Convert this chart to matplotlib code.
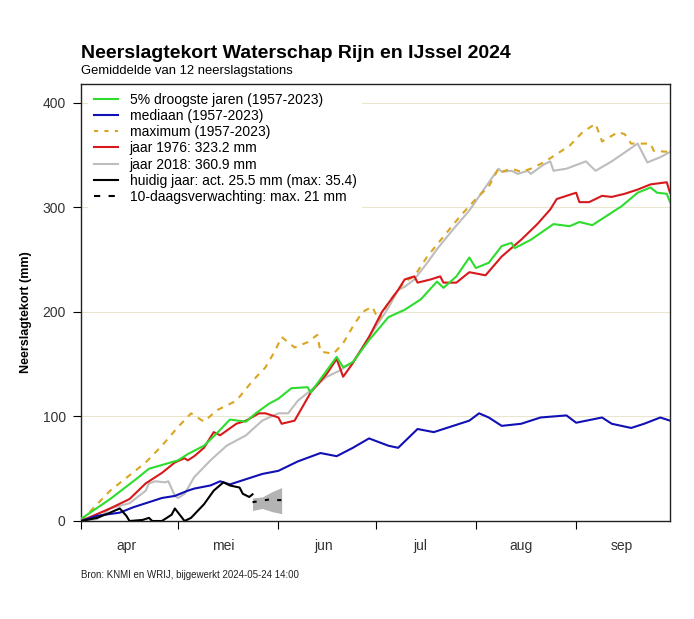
import matplotlib
matplotlib.use("Agg")
import matplotlib.pyplot as plt
from matplotlib.lines import Line2D

plt.rcParams['font.family'] = ['Liberation Sans', 'DejaVu Sans']

# days since 1 April 2024 and precipitation deficit (mm)
droog_dag = [0, 9, 17, 21, 30, 33, 38, 42, 46, 51, 54, 58, 61, 65, 70, 71, 79, 81, 84, 89, 95,
             100, 105, 110, 112, 116, 120, 122, 126, 130, 133, 134, 139, 146, 151, 154, 158,
             167, 172, 176, 178, 181, 182]
droog_mm = [2, 21, 40, 50, 58, 64, 72, 84, 97, 95, 103, 112, 117, 127, 128, 123, 157, 147, 152, 173, 195,
            202, 212, 229, 223, 234, 252, 242, 247, 263, 266, 261, 269, 284, 282, 286, 283,
            301, 314, 319, 314, 313, 305]

mediaan_dag = [0, 5, 12, 16, 20, 25, 29, 33, 35, 40, 43, 46, 51, 56, 61, 67, 74, 79, 84, 89, 95,
               98, 104, 109, 115, 120, 123, 126, 130, 136, 142, 150, 153, 161, 164, 170, 174, 179, 182]
mediaan_mm = [0, 5, 8, 13, 17, 22, 24, 29, 31, 34, 38, 35, 40, 45, 48, 57, 65, 62, 70, 79, 72,
              70, 88, 85, 91, 96, 103, 99, 91, 93, 99, 101, 94, 99, 93, 89, 93, 99, 96]

max_dag = [0, 9, 20, 25, 30, 34, 38, 42, 48, 53, 57, 60, 62, 66, 70, 73, 74, 78, 81, 84, 87, 90, 92,
           95, 100, 103, 107, 112, 117, 122, 126, 129, 130, 133, 136, 139, 143, 146, 151, 155,
           159, 161, 166, 168, 170, 176, 177, 182]
max_mm = [0, 29, 56, 72, 90, 103, 95, 106, 115, 134, 147, 163, 176, 166, 171, 178, 162, 160, 170, 186,
          200, 205, 192, 209, 229, 234, 253, 272, 291, 308, 320, 337, 334, 337, 334, 337, 343, 349,
          359, 372, 380, 363, 372, 370, 361, 361, 354, 353]

j1976_dag = [0, 9, 15, 20, 25, 29, 32, 33, 35, 38, 41, 43, 48, 51, 55, 57, 61, 62, 66, 71, 76, 79,
             81, 84, 89, 93, 98, 100, 103, 104, 108, 111, 112, 116, 120, 125, 130, 136, 141, 145,
             147, 150, 153, 154, 157, 161, 164, 168, 172, 176, 181, 182]
j1976_mm = [0, 12, 21, 36, 46, 56, 60, 58, 62, 70, 85, 82, 93, 96, 103, 103, 99, 93, 96, 123, 141, 155,
            138, 151, 176, 200, 221, 231, 234, 228, 231, 234, 228, 228, 238, 235, 253, 269, 284, 298,
            308, 311, 314, 305, 305, 311, 310, 313, 317, 322, 324, 314]

j2018_dag = [0, 5, 9, 15, 20, 21, 23, 26, 27, 29, 30, 32, 35, 40, 45, 51, 56, 61, 64, 67, 71, 76,
             80, 84, 89, 95, 98, 100, 103, 107, 110, 115, 120, 124, 129, 130, 133, 135, 138, 139,
             143, 145, 146, 150, 156, 159, 164, 172, 175, 179, 182]
j2018_mm = [0, 2, 12, 17, 29, 36, 38, 37, 38, 24, 22, 26, 42, 58, 72, 82, 96, 103, 103, 115, 125, 138,
            144, 152, 176, 204, 221, 224, 231, 247, 260, 279, 297, 315, 337, 334, 335, 332, 335, 332,
            341, 344, 335, 337, 344, 335, 344, 361, 343, 348, 353]

huidig_dag = [0, 5, 9, 12, 14, 15, 19, 21, 22, 25, 28, 29, 32, 34, 38, 41, 44, 46, 49, 50, 52, 53]
huidig_mm = [0, 3, 8, 12, 5, 0, 1, 3, 0, 0, 6, 12, 0, 3, 16, 29, 37, 34, 32, 26, 23, 25.5]

verw_dag = [53, 55, 57, 59, 61, 62]
verw_mm = [18, 19, 20, 21, 20, 20]
band_dag = [53, 56, 59, 62]
band_laag = [10, 12, 9, 7]
band_hoog = [22, 23, 28, 32]

maand_start = [0, 30, 61, 91, 122, 153]
maanden = ['apr', 'mei', 'jun', 'jul', 'aug', 'sep']

fig = plt.figure(figsize=(6.94, 6.19), dpi=100)
ax = fig.add_axes([81 / 694, 1 - 521 / 619, 589 / 694, 437 / 619])

for v in [100, 200, 300, 400]:
    ax.axhline(v, color='#e9e5cf', lw=0.8, zorder=0)

ax.fill_between(band_dag, band_laag, band_hoog, color='#b3b3b3', lw=0, zorder=1)

ax.plot(j2018_dag, j2018_mm, color='#bdbdbd', lw=1.5, zorder=2)
ax.plot(max_dag, max_mm, color='#daa520', lw=1.5, ls=(0, (3, 3)), zorder=3)
ax.plot(j1976_dag, j1976_mm, color='#d7191c', lw=1.5, zorder=4)
ax.plot(droog_dag, droog_mm, color='#2ddc2d', lw=1.5, zorder=5)
ax.plot(mediaan_dag, mediaan_mm, color='#1010b4', lw=1.5, zorder=6)
ax.plot(huidig_dag, huidig_mm, color='black', lw=1.5, zorder=7)
ax.plot(verw_dag, verw_mm, color='black', lw=1.5, ls=(0, (2, 4)), zorder=7)

ax.set_xlim(0, 182)
ax.set_ylim(0, 418)

ax.set_yticks([0, 100, 200, 300, 400])
ax.tick_params(axis='y', length=6, pad=5, labelsize=10, labelcolor='#333333')
ax.set_xticks(maand_start)
ax.set_xticklabels([])
ax.set_xticks([d + 14 for d in maand_start], minor=True)
ax.set_xticklabels(maanden, minor=True)
ax.tick_params(axis='x', which='major', length=6)
ax.tick_params(axis='x', which='minor', length=0, pad=13, labelsize=10, labelcolor='#333333')

for s in ax.spines.values():
    s.set_color('#222222')
    s.set_linewidth(1)

ax.set_ylabel('Neerslagtekort (mm)', fontsize=9, fontweight='bold')
ax.yaxis.set_label_coords(-0.083, 0.478)

handles = [
    Line2D([], [], color='#2ddc2d', lw=1.5),
    Line2D([], [], color='#1010b4', lw=1.5),
    Line2D([], [], color='#daa520', lw=1.5, ls=(0, (2, 3))),
    Line2D([], [], color='#d7191c', lw=1.5),
    Line2D([], [], color='#bdbdbd', lw=1.5),
    Line2D([], [], color='black', lw=1.5),
    Line2D([], [], color='black', lw=1.5, ls=(0, (3, 4))),
]
labels = [
    '5% droogste jaren (1957-2023)',
    'mediaan (1957-2023)',
    'maximum (1957-2023)',
    'jaar 1976: 323.2 mm',
    'jaar 2018: 360.9 mm',
    'huidig jaar: act. 25.5 mm (max: 35.4)',
    '10-daagsverwachting: max. 21 mm',
]
leg = ax.legend(handles, labels, loc='upper left', bbox_to_anchor=(0.012, 0.993),
                borderaxespad=0, fontsize=10, handlelength=1.75, handletextpad=0.85,
                labelspacing=0.16, frameon=True, fancybox=False, borderpad=0.4)
leg.get_frame().set_edgecolor('none')
leg.get_frame().set_facecolor('white')
leg.get_frame().set_alpha(1)
leg.set_zorder(10)

fig.text(81 / 694, 1 - 58 / 619, 'Neerslagtekort Waterschap Rijn en IJssel 2024',
         fontsize=14, fontweight='bold', va='baseline', ha='left')
fig.text(81 / 694, 1 - 74 / 619, 'Gemiddelde van 12 neerslagstations',
         fontsize=9.4, va='baseline', ha='left')
fig.text(81 / 694, 1 - 578 / 619, 'Bron: KNMI en WRIJ, bijgewerkt 2024-05-24 14:00',
         fontsize=7, va='baseline', ha='left', color='#222222')

fig.savefig('out.png', dpi=100)
